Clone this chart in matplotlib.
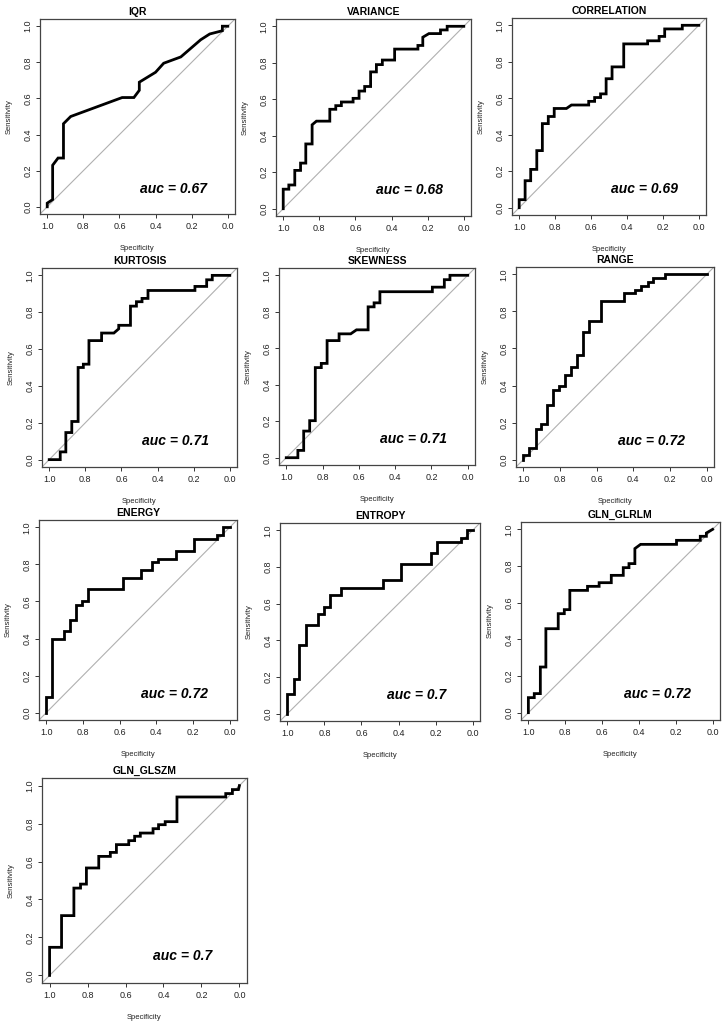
import matplotlib
matplotlib.use("Agg")
import matplotlib.pyplot as plt

plt.rcParams['font.family'] = ['Liberation Sans', 'DejaVu Sans']

# ---- ROC points (specificity, sensitivity) ----
iqr_spec = [1.0, 1.0, 0.97, 0.97, 0.94, 0.91, 0.91, 0.87, 0.585, 0.52, 0.49, 0.49, 0.40, 0.355, 0.26, 0.15, 0.10, 0.03, 0.03, 0.0]
iqr_sens = [0.0, 0.02, 0.04, 0.23, 0.27, 0.27, 0.46, 0.50, 0.605, 0.605, 0.645, 0.69, 0.745, 0.795, 0.83, 0.925, 0.957, 0.975, 1.0, 1.0]

var_spec = [1.0, 1.0, 0.969, 0.969, 0.936, 0.936, 0.904, 0.904, 0.875, 0.875, 0.84, 0.84, 0.816, 0.742, 0.742, 0.709, 0.709,
            0.678, 0.678, 0.613, 0.613, 0.58, 0.58, 0.549, 0.549, 0.516, 0.516, 0.484, 0.484, 0.451, 0.451, 0.383, 0.383,
            0.254, 0.254, 0.227, 0.227, 0.193, 0.129, 0.129, 0.092, 0.092, 0.0]
var_sens = [0.0, 0.107, 0.107, 0.13, 0.13, 0.21, 0.21, 0.25, 0.25, 0.355, 0.355, 0.46, 0.48, 0.48, 0.545, 0.545, 0.565,
            0.565, 0.585, 0.585, 0.605, 0.605, 0.645, 0.645, 0.67, 0.67, 0.75, 0.75, 0.79, 0.79, 0.815, 0.815, 0.875,
            0.875, 0.895, 0.895, 0.94, 0.96, 0.96, 0.98, 0.98, 1.0, 1.0]

cor_spec = [1.0, 1.0, 0.967, 0.967, 0.936, 0.936, 0.902, 0.902, 0.871, 0.871, 0.838, 0.838, 0.805, 0.805, 0.737, 0.709,
            0.613, 0.613, 0.58, 0.58, 0.547, 0.547, 0.516, 0.516, 0.483, 0.483, 0.418, 0.418, 0.285, 0.285, 0.221, 0.221,
            0.19, 0.19, 0.092, 0.092, 0.0]
cor_sens = [0.0, 0.044, 0.044, 0.148, 0.148, 0.21, 0.21, 0.313, 0.313, 0.461, 0.461, 0.5, 0.5, 0.544, 0.544, 0.563,
            0.563, 0.583, 0.583, 0.604, 0.604, 0.624, 0.624, 0.707, 0.707, 0.772, 0.772, 0.898, 0.898, 0.915, 0.915, 0.939,
            0.939, 0.98, 0.98, 1.0, 1.0]

kur_spec = [1.0, 0.939, 0.939, 0.908, 0.908, 0.875, 0.875, 0.84, 0.84, 0.811, 0.811, 0.78, 0.78, 0.71, 0.71, 0.642,
            0.615, 0.615, 0.55, 0.55, 0.517, 0.517, 0.486, 0.486, 0.453, 0.453, 0.193, 0.193, 0.128, 0.128, 0.097, 0.097, 0.0]
kur_sens = [0.0, 0.0, 0.042, 0.042, 0.147, 0.147, 0.207, 0.207, 0.5, 0.5, 0.518, 0.518, 0.646, 0.646, 0.687, 0.687,
            0.71, 0.729, 0.729, 0.833, 0.833, 0.857, 0.857, 0.875, 0.875, 0.918, 0.918, 0.94, 0.94, 0.976, 0.976, 1.0, 1.0]

skw_spec = [1.0, 0.936, 0.936, 0.904, 0.904, 0.871, 0.871, 0.84, 0.84, 0.807, 0.807, 0.775, 0.775, 0.709, 0.709, 0.645,
            0.613, 0.549, 0.549, 0.516, 0.516, 0.484, 0.484, 0.195, 0.195, 0.129, 0.129, 0.098, 0.098, 0.0]
skw_sens = [0.0, 0.0, 0.04, 0.04, 0.146, 0.146, 0.203, 0.203, 0.494, 0.494, 0.517, 0.517, 0.642, 0.642, 0.679, 0.679,
            0.701, 0.701, 0.827, 0.827, 0.849, 0.849, 0.91, 0.91, 0.935, 0.935, 0.976, 0.976, 1.0, 1.0]

rng_spec = [1.0, 1.0, 0.967, 0.967, 0.933, 0.933, 0.901, 0.901, 0.87, 0.87, 0.837, 0.837, 0.805, 0.805, 0.772, 0.772,
            0.74, 0.74, 0.707, 0.707, 0.674, 0.674, 0.644, 0.644, 0.579, 0.579, 0.452, 0.452, 0.389, 0.389, 0.356, 0.356,
            0.322, 0.322, 0.291, 0.291, 0.226, 0.226, 0.0]
rng_sens = [0.0, 0.027, 0.027, 0.063, 0.063, 0.167, 0.167, 0.19, 0.19, 0.293, 0.293, 0.375, 0.375, 0.397, 0.397, 0.457,
            0.457, 0.498, 0.498, 0.565, 0.565, 0.687, 0.687, 0.75, 0.75, 0.855, 0.855, 0.897, 0.897, 0.915, 0.915, 0.937,
            0.937, 0.958, 0.958, 0.978, 0.978, 1.0, 1.0]

eng_spec = [1.0, 1.0, 0.968, 0.968, 0.905, 0.905, 0.869, 0.869, 0.837, 0.837, 0.806, 0.806, 0.774, 0.774, 0.582, 0.582,
            0.484, 0.484, 0.421, 0.421, 0.389, 0.389, 0.292, 0.292, 0.197, 0.197, 0.068, 0.068, 0.036, 0.036, 0.0]
eng_sens = [0.0, 0.083, 0.083, 0.398, 0.398, 0.439, 0.439, 0.5, 0.5, 0.582, 0.582, 0.604, 0.604, 0.665, 0.665, 0.729,
            0.729, 0.769, 0.769, 0.814, 0.814, 0.832, 0.832, 0.873, 0.873, 0.937, 0.937, 0.958, 0.958, 1.0, 1.0]

ent_spec = [1.0, 1.0, 0.967, 0.967, 0.935, 0.935, 0.901, 0.901, 0.837, 0.837, 0.805, 0.805, 0.772, 0.772, 0.709, 0.709,
            0.483, 0.483, 0.389, 0.389, 0.226, 0.226, 0.193, 0.193, 0.063, 0.063, 0.031, 0.031, 0.0]
ent_sens = [0.0, 0.109, 0.109, 0.187, 0.187, 0.376, 0.376, 0.482, 0.482, 0.542, 0.542, 0.582, 0.582, 0.645, 0.645, 0.687,
            0.687, 0.731, 0.731, 0.815, 0.815, 0.876, 0.876, 0.936, 0.936, 0.96, 0.96, 1.0, 1.0]

glrlm_spec = [1.0, 1.0, 0.968, 0.968, 0.935, 0.935, 0.905, 0.905, 0.838, 0.838, 0.805, 0.805, 0.775, 0.775, 0.679, 0.679,
              0.616, 0.616, 0.55, 0.55, 0.485, 0.485, 0.454, 0.454, 0.422, 0.422, 0.391, 0.196, 0.196, 0.067, 0.067,
              0.034, 0.034, 0.0]
glrlm_sens = [0.0, 0.082, 0.082, 0.104, 0.104, 0.249, 0.249, 0.458, 0.458, 0.54, 0.54, 0.562, 0.562, 0.667, 0.667, 0.689,
              0.689, 0.709, 0.709, 0.749, 0.749, 0.791, 0.791, 0.813, 0.813, 0.895, 0.918, 0.918, 0.94, 0.94, 0.962,
              0.962, 0.98, 1.0]

glszm_spec = [1.0, 1.0, 0.937, 0.937, 0.872, 0.872, 0.837, 0.837, 0.806, 0.806, 0.741, 0.741, 0.68, 0.68, 0.648, 0.648,
              0.583, 0.583, 0.552, 0.552, 0.522, 0.522, 0.455, 0.455, 0.426, 0.426, 0.391, 0.391, 0.329, 0.329, 0.072,
              0.072, 0.037, 0.037, 0.005, 0.0]
glszm_sens = [0.0, 0.148, 0.148, 0.315, 0.315, 0.46, 0.46, 0.481, 0.481, 0.566, 0.566, 0.627, 0.627, 0.648, 0.648, 0.689,
              0.689, 0.71, 0.71, 0.733, 0.733, 0.75, 0.75, 0.773, 0.773, 0.794, 0.794, 0.81, 0.81, 0.94, 0.94,
              0.958, 0.958, 0.979, 0.979, 1.0]

titles = ["IQR", "VARIANCE", "CORRELATION", "KURTOSIS", "SKEWNESS", "RANGE",
          "ENERGY", "ENTROPY", "GLN_GLRLM", "GLN_GLSZM"]
auc_labels = ["0.67", "0.68", "0.69", "0.71", "0.71", "0.72", "0.72", "0.7", "0.72", "0.7"]
ticks = [0.0, 0.2, 0.4, 0.6, 0.8, 1.0]

curves = [(iqr_spec, iqr_sens), (var_spec, var_sens), (cor_spec, cor_sens),
          (kur_spec, kur_sens), (skw_spec, skw_sens), (rng_spec, rng_sens),
          (eng_spec, eng_sens), (ent_spec, ent_sens), (glrlm_spec, glrlm_sens),
          (glszm_spec, glszm_sens)]

# panel boxes in pixels: left, top, right, bottom
boxes = [(40, 19, 235, 214), (276, 19, 471, 216), (512, 18, 706, 215),
         (42, 268, 237, 467), (279, 268, 475, 465), (516, 267, 714, 467),
         (39, 520, 237, 720), (280, 523, 480, 721), (521, 522, 720, 720),
         (42, 778, 247, 983)]

W, H = 727, 1027
fig = plt.figure(figsize=(W / 100, H / 100), dpi=100)

for (spec, sens), title, auc, (l, t, r, b) in zip(curves, titles, auc_labels, boxes):
    ax = fig.add_axes([l / W, 1 - b / H, (r - l) / W, (b - t) / H])
    ax.axline((1, 0), (0, 1), color='#b0b0b0', lw=0.8, zorder=1)
    ax.plot(spec, sens, color='black', lw=2.0, solid_joinstyle='miter', zorder=2)
    ax.set_xlim(1.04, -0.04)
    ax.set_ylim(-0.04, 1.04)
    ax.set_xticks(ticks)
    ax.set_yticks(ticks)
    ax.set_xticklabels(["%.1f" % v for v in ticks])
    ax.set_yticklabels(["%.1f" % v for v in ticks], rotation=90, va='center')
    ax.tick_params(length=3, width=0.7, labelsize=6.5, pad=2.5, colors='#333333', labelcolor='#222222')
    for s in ax.spines.values():
        s.set_color('#444444')
        s.set_linewidth(0.9)
    ax.set_xlabel("Specificity", fontsize=5.5, labelpad=10, color='#222222')
    ax.set_ylabel("Sensitivity", fontsize=5.5, labelpad=8, color='#222222')
    ax.set_title(title, fontsize=7.5, fontweight='bold', pad=3)
    ax.text(0.3, 0.1, "auc = " + auc, fontsize=10, fontweight='bold', style='italic',
            ha='center', va='center')

fig.savefig("out.png", dpi=100)
